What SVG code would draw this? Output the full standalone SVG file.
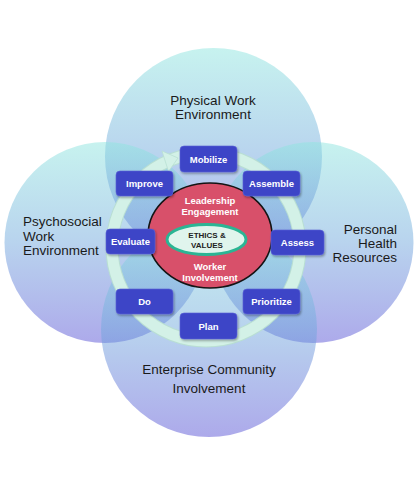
<svg xmlns="http://www.w3.org/2000/svg" width="420" height="496" viewBox="0 0 420 496">
<defs>
<linearGradient id="cg" x1="0" y1="0" x2="0" y2="1">
<stop offset="0" stop-color="#8fe6df"/>
<stop offset="0.5" stop-color="#72a8dd"/>
<stop offset="1" stop-color="#5b55d6"/>
</linearGradient>
<filter id="sh" x="-20%" y="-20%" width="140%" height="150%">
<feDropShadow dx="1" dy="1.5" stdDeviation="1" flood-color="#000" flood-opacity="0.35"/>
</filter>
</defs>
<style>
.outer{fill:url(#cg);fill-opacity:0.5}
.lbl{font-family:"Liberation Sans",Arial,sans-serif;font-size:13.5px;fill:#1a1a1a}
.node rect{fill:#3d45c7;stroke:#5a62d8;stroke-width:0.6;filter:url(#sh)}
.node text{font-family:"Liberation Sans",Arial,sans-serif;font-size:9.5px;font-weight:bold;fill:#ffffff;text-anchor:middle}
.core{font-family:"Liberation Sans",Arial,sans-serif;font-size:9.5px;font-weight:bold;fill:#ffffff;text-anchor:middle}
.eth{font-family:"Liberation Sans",Arial,sans-serif;font-size:8px;font-weight:bold;fill:#222222;text-anchor:middle}
</style>
<rect width="420" height="496" fill="#ffffff"/>
<g id="physical">
<circle class="outer" cx="213.5" cy="156.5" r="108.5"/>
<text class="lbl" x="213" y="105" text-anchor="middle">Physical Work</text>
<text class="lbl" x="213" y="119" text-anchor="middle">Environment</text>
</g>
<g id="psychosocial">
<circle class="outer" cx="105" cy="242.5" r="100.5"/>
<text class="lbl" x="23" y="226">Psychosocial</text>
<text class="lbl" x="23" y="240.5">Work</text>
<text class="lbl" x="23" y="255">Environment</text>
</g>
<g id="personal">
<circle class="outer" cx="313" cy="242.5" r="100.5"/>
<text class="lbl" x="397" y="234" text-anchor="end">Personal</text>
<text class="lbl" x="397" y="248" text-anchor="end">Health</text>
<text class="lbl" x="397" y="262" text-anchor="end">Resources</text>
</g>
<g id="enterprise">
<circle class="outer" cx="209" cy="329" r="108"/>
<text class="lbl" x="209" y="373.5" text-anchor="middle">Enterprise Community</text>
<text class="lbl" x="209" y="392.5" text-anchor="middle">Involvement</text>
</g>
<g id="connectors">
<circle cx="206" cy="247" r="94" fill="none" stroke="#b9dfd3" stroke-width="13"/>
<circle cx="206" cy="247" r="94" fill="none" stroke="#d3f1e7" stroke-width="11"/>
<polygon points="178,158 162,151 168.5,171.5" fill="#d3f1e7" stroke="#b9dfd3" stroke-width="0.8"/>
</g>
<g id="core">
<ellipse cx="210" cy="235.5" rx="62" ry="52.5" fill="#d8506a" stroke="#141414" stroke-width="1.6"/>
<text class="core" x="210" y="204">Leadership</text>
<text class="core" x="210" y="215">Engagement</text>
<text class="core" x="210" y="270">Worker</text>
<text class="core" x="210" y="281">Involvement</text>
</g>
<g id="ethics">
<ellipse cx="206.5" cy="239.5" rx="39.5" ry="15" fill="#e0f5ed" stroke="#2bb594" stroke-width="3"/>
<text class="eth" x="207" y="238">ETHICS &amp;</text>
<text class="eth" x="207" y="248">VALUES</text>
</g>
<g id="mobilize" class="node"><rect x="180" y="146" width="57" height="26" rx="4"/><text x="208.5" y="162.5">Mobilize</text></g>
<g id="improve" class="node"><rect x="116" y="171" width="57" height="25" rx="4"/><text x="144.5" y="187">Improve</text></g>
<g id="assemble" class="node"><rect x="243" y="171" width="57" height="25" rx="4"/><text x="271.5" y="187">Assemble</text></g>
<g id="evaluate" class="node"><rect x="106" y="229" width="49" height="25" rx="4"/><text x="130.5" y="245">Evaluate</text></g>
<g id="assess" class="node"><rect x="271" y="230" width="53" height="25" rx="4"/><text x="297.5" y="246">Assess</text></g>
<g id="do" class="node"><rect x="116" y="289" width="57" height="25" rx="4"/><text x="144.5" y="305">Do</text></g>
<g id="prioritize" class="node"><rect x="243" y="289" width="57" height="25" rx="4"/><text x="271.5" y="305">Prioritize</text></g>
<g id="plan" class="node"><rect x="180" y="313" width="57" height="26" rx="4"/><text x="208.5" y="329.5">Plan</text></g>
</svg>
